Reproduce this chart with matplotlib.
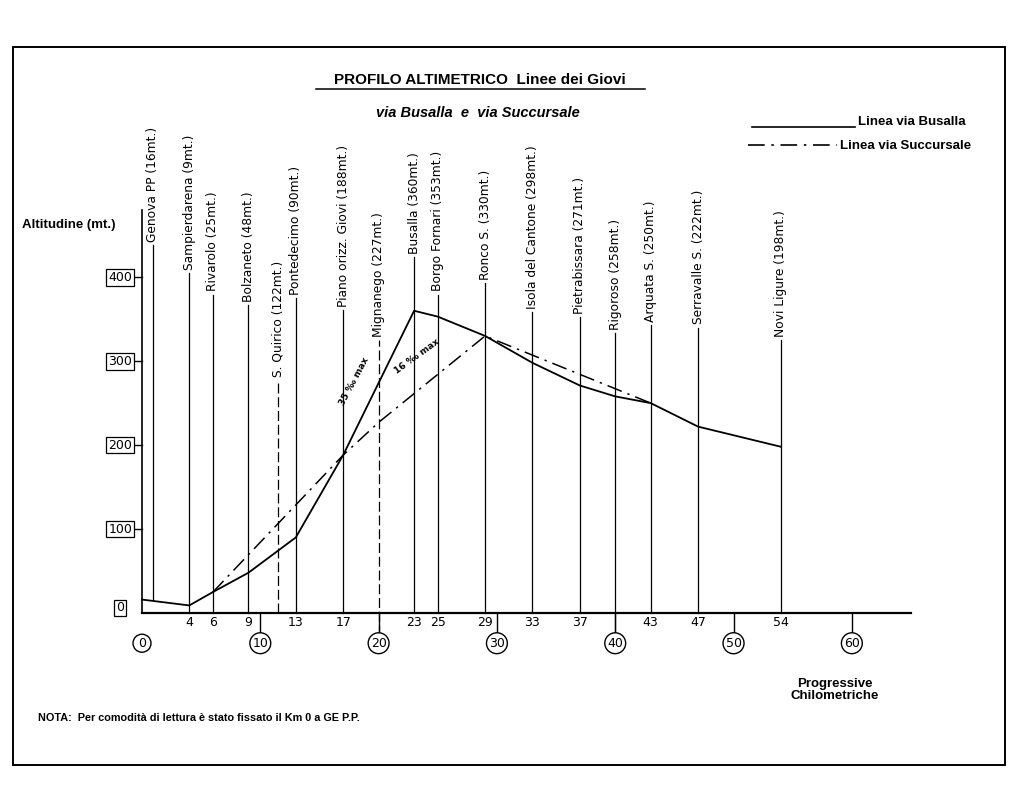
import matplotlib
matplotlib.use("Agg")
import matplotlib.pyplot as plt
from matplotlib.lines import Line2D
from matplotlib.patches import Rectangle

# stazioni lungo la linea (etichette come nel disegno originale)
stazioni = [
    "Genova PP (16mt.)", "Sampierdarena (9mt.)", "Rivarolo (25mt.)", "Bolzaneto (48mt.)",
    "S. Quirico (122mt.)", "Pontedecimo (90mt.)", "Piano orizz. Giovi (188mt.)",
    "Mignanego (227mt.)", "Busalla (360mt.)", "Borgo Fornari (353mt.)", "Ronco S. (330mt.)",
    "Isola del Cantone (298mt.)", "Pietrabissara (271mt.)", "Rigoroso (258mt.)",
    "Arquata S. (250mt.)", "Serravalle S. (222mt.)", "Novi Ligure (198mt.)",
]
km_stazioni = [0, 4, 6, 9, 11.5, 13, 17, 20, 23, 25, 29, 33, 37, 40, 43, 47, 54]
# quota a cui finisce la linea verticale sotto ogni etichetta
cima_linee = [438, 405, 379, 367, 277, 375, 361, 325, 424, 379, 393, 358, 352, 333, 343, 340, 325]
tratteggiate = ["S. Quirico (122mt.)", "Mignanego (227mt.)"]

# linea via Busalla
km_busalla = [0, 4, 6, 9, 13, 17, 23, 25, 29, 33, 37, 40, 43, 47, 54]
quota_busalla = [16, 9, 25, 48, 90, 188, 360, 353, 330, 298, 271, 258, 250, 222, 198]

# linea via Succursale
km_succursale = [6, 17, 20, 29, 43]
quota_succursale = [25, 188, 227, 330, 250]

km_etichette = [4, 6, 9, 13, 17, 23, 25, 29, 33, 37, 43, 47, 54]
km_decine = [0, 10, 20, 30, 40, 50, 60]
quote_tick = [0, 100, 200, 300, 400]

W, H = 1024, 789
TRATTINO_PUNTO = (0, (10, 4, 1.5, 4))
SPOSTAMENTO_GENOVA = 0.9  # la linea di Genova nel disegno e' staccata dall'asse


def px(x, y):
    return x / W, 1 - y / H


def disegna_cornice(fig):
    x0, y0 = px(13, 765)
    x1, y1 = px(1005, 47)
    fig.add_artist(Rectangle((x0, y0), x1 - x0, y1 - y0, transform=fig.transFigure,
                             fill=False, lw=1.4, color="black"))


def disegna_testi(fig):
    bold = dict(family="Liberation Sans", fontweight="bold", color="black")
    fig.text(*px(480, 80), "PROFILO ALTIMETRICO  Linee dei Giovi", ha="center", va="center",
             fontsize=11, **bold)
    fig.add_artist(Line2D([316 / W, 645 / W], [1 - 89 / H, 1 - 89 / H],
                          transform=fig.transFigure, color="black", lw=1.1))
    fig.text(*px(478, 113), "via Busalla  e  via Succursale", ha="center", va="center",
             fontsize=10.5, fontstyle="italic", **bold)
    fig.text(*px(22, 225), "Altitudine (mt.)", ha="left", va="center", fontsize=9.5, **bold)
    fig.text(*px(38, 718), "NOTA:  Per comodità di lettura è stato fissato il Km 0 a GE P.P.",
             ha="left", va="center", fontsize=7.8, **bold)
    fig.text(*px(835, 690), "Progressive\nChilometriche", ha="center", va="center",
             fontsize=9.5, linespacing=1.0, **bold)

    # legenda disegnata a mano
    fig.add_artist(Line2D([752 / W, 855 / W], [1 - 127 / H] * 2, transform=fig.transFigure,
                          color="black", lw=1.2))
    fig.text(*px(858, 122), "Linea via Busalla", ha="left", va="center", fontsize=9.5, **bold)
    fig.add_artist(Line2D([748 / W, 837 / W], [1 - 145 / H] * 2, transform=fig.transFigure,
                          color="black", lw=1.2, linestyle=TRATTINO_PUNTO))
    fig.text(*px(840, 146), "Linea via Succursale", ha="left", va="center", fontsize=9.5, **bold)


def disegna_profilo(ax):
    # linee verticali delle stazioni con le etichette
    for nome, km, cima in zip(stazioni, km_stazioni, cima_linee):
        x = km if km > 0 else SPOSTAMENTO_GENOVA
        fondo = 16 if km == 0 else (-26 if km in km_decine else 0)
        stile = (0, (8, 3)) if nome in tratteggiate else "-"
        ax.plot([x, x], [fondo, cima], color="black", lw=0.9, linestyle=stile, clip_on=False)
        ax.text(x, cima + 4, nome, rotation=90, ha="center", va="bottom", fontsize=8.8,
                family="DejaVu Sans", color="black", clip_on=False)

    ax.plot(km_busalla, quota_busalla, color="black", lw=1.3, clip_on=False)
    ax.plot(km_succursale, quota_succursale, color="black", lw=1.1,
            linestyle=TRATTINO_PUNTO, clip_on=False)

    ax.text(17.9, 276, "35 ‰ max", rotation=62, ha="center", va="center", fontsize=6.5,
            family="DejaVu Sans", fontweight="bold")
    ax.text(23.2, 306, "16 ‰ max", rotation=36, ha="center", va="center", fontsize=6.5,
            family="DejaVu Sans", fontweight="bold")


def disegna_assi(ax):
    ax.set_xlim(0, 65)
    ax.set_ylim(0, 480)
    for lato in ["top", "right"]:
        ax.spines[lato].set_visible(False)
    ax.spines["left"].set_linewidth(1.2)
    ax.spines["bottom"].set_linewidth(1.6)
    ax.set_xticks([])
    ax.set_yticks([])

    box = dict(boxstyle="square,pad=0.15", fc="white", ec="black", lw=0.9)
    for q in quote_tick:
        if q > 0:
            ax.plot([-0.8, 0], [q, q], color="black", lw=1.0, clip_on=False)
        ax.text(-1.85, q if q > 0 else 6, str(q), ha="center", va="center", fontsize=9,
                family="DejaVu Sans", bbox=box, clip_on=False)

    for km in km_etichette:
        ax.text(km, -11, str(km), ha="center", va="center", fontsize=9,
                family="DejaVu Sans", clip_on=False)

    cerchio = dict(boxstyle="circle,pad=0.2", fc="white", ec="black", lw=1.0)
    for km in km_decine:
        if km > 0:
            ax.plot([km, km], [0, -24], color="black", lw=1.0, clip_on=False)
        ax.text(km, -36, str(km), ha="center", va="center", fontsize=9,
                family="DejaVu Sans", bbox=cerchio, clip_on=False)


def main():
    fig = plt.figure(figsize=(W / 100, H / 100), dpi=100)
    ax = fig.add_axes([142 / W, (H - 613) / H, 769 / W, 403 / H])
    ax.patch.set_alpha(0)
    disegna_cornice(fig)
    disegna_testi(fig)
    disegna_assi(ax)
    disegna_profilo(ax)
    fig.savefig("out.png", dpi=100)
    plt.close(fig)


if __name__ == "__main__":
    main()
